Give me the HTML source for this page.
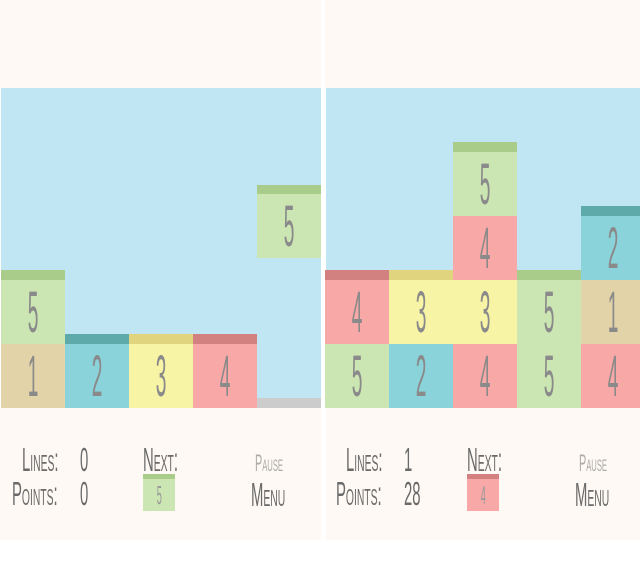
<!DOCTYPE html>
<html><head><style>
body{margin:0;width:640px;height:568px;background:#fff;position:relative;overflow:hidden;font-family:"Liberation Sans",sans-serif}
div{position:absolute;box-sizing:border-box}
.cr{background:#fef9f4}
.bl{background:#c0e6f4}
.b{width:64px;height:64px;color:#8a8a8a;font-size:58px;text-align:center;line-height:66px;font-weight:normal}
.b span,.t span{display:inline-block;transform:scaleX(0.33)}
.c{width:64px;height:10px}
.g{background:#cbe5b3}.gc{background:#a9cc8a}
.n{background:#e3d3a9}
.tl{background:#8ad3db}.tc{background:#5eaaab}
.y{background:#f8f4a6}.yc{background:#e0d57e}
.p{background:#f8a8a6}.pc{background:#d28080}
.t{color:#6a6a6a;font-variant:small-caps;white-space:nowrap;transform-origin:left top;transform:scaleX(0.45);font-size:33px;line-height:30px}
</style></head><body>
<div class="cr" style="left:0;top:0;width:321px;height:88px"></div>
<div class="cr" style="left:325px;top:0;width:315px;height:88px"></div>
<div class="bl" style="left:1px;top:88px;width:320px;height:320px"></div>
<div class="bl" style="left:326px;top:88px;width:314px;height:320px"></div>
<div class="cr" style="left:0;top:408px;width:321px;height:132px"></div>
<div class="cr" style="left:326px;top:408px;width:314px;height:132px"></div>

<div class="b g" style="left:1px;top:280px"><span>5</span></div><div class="c gc" style="left:1px;top:270px"></div>
<div class="b n" style="left:1px;top:344px"><span>1</span></div>
<div class="b tl" style="left:65px;top:344px"><span>2</span></div><div class="c tc" style="left:65px;top:334px"></div>
<div class="b y" style="left:129px;top:344px"><span>3</span></div><div class="c yc" style="left:129px;top:334px"></div>
<div class="b p" style="left:193px;top:344px"><span>4</span></div><div class="c pc" style="left:193px;top:334px"></div>
<div class="b g" style="left:257px;top:194px"><span>5</span></div><div class="c gc" style="left:257px;top:185px;height:9px"></div>
<div style="left:257px;top:398px;width:64px;height:10px;background:#cccccc"></div>

<div class="b g" style="left:325px;top:344px"><span>5</span></div>
<div class="b tl" style="left:389px;top:344px"><span>2</span></div>
<div class="b p" style="left:453px;top:344px"><span>4</span></div>
<div class="b g" style="left:517px;top:344px"><span>5</span></div>
<div class="b p" style="left:581px;top:344px"><span>4</span></div>
<div class="b p" style="left:325px;top:280px"><span>4</span></div><div class="c pc" style="left:325px;top:270px"></div>
<div class="b y" style="left:389px;top:280px"><span>3</span></div><div class="c yc" style="left:389px;top:270px"></div>
<div class="b y" style="left:453px;top:280px"><span>3</span></div>
<div class="b g" style="left:517px;top:280px"><span>5</span></div><div class="c gc" style="left:517px;top:270px"></div>
<div class="b n" style="left:581px;top:280px"><span>1</span></div>
<div class="b p" style="left:453px;top:216px"><span>4</span></div>
<div class="b g" style="left:453px;top:152px"><span>5</span></div><div class="c gc" style="left:453px;top:142px"></div>
<div class="b tl" style="left:581px;top:216px"><span>2</span></div><div class="c tc" style="left:581px;top:206px"></div>

<div class="t" style="left:22px;top:445px">Lines:</div>
<div class="t" style="left:80px;top:445px">0</div>
<div class="t" style="left:12px;top:479px">Points:</div>
<div class="t" style="left:80px;top:479px">0</div>
<div class="t" style="left:143px;top:445px">Next:</div>
<div class="g" style="left:143px;top:474px;width:32px;height:37px;color:#999;font-size:26px;text-align:center;line-height:42px"><span style="display:inline-block;transform:scaleX(0.35)">5</span></div>
<div class="gc" style="left:143px;top:474px;width:32px;height:5px"></div>
<div class="t" style="left:255px;top:449px;font-size:24px;color:#aaa">Pause</div>
<div class="t" style="left:251px;top:480px">Menu</div>

<div class="t" style="left:346px;top:445px">Lines:</div>
<div class="t" style="left:404px;top:445px">1</div>
<div class="t" style="left:336px;top:479px">Points:</div>
<div class="t" style="left:404px;top:479px">28</div>
<div class="t" style="left:467px;top:445px">Next:</div>
<div class="p" style="left:467px;top:474px;width:32px;height:37px;color:#999;font-size:26px;text-align:center;line-height:42px"><span style="display:inline-block;transform:scaleX(0.35)">4</span></div>
<div class="pc" style="left:467px;top:474px;width:32px;height:5px"></div>
<div class="t" style="left:579px;top:449px;font-size:24px;color:#aaa">Pause</div>
<div class="t" style="left:575px;top:480px">Menu</div>
</body></html>
